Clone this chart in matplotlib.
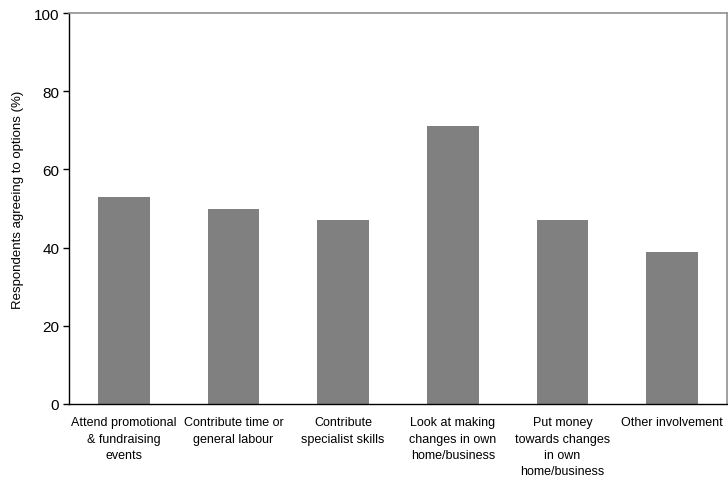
import matplotlib
matplotlib.use("Agg")
import matplotlib.pyplot as plt
import numpy as np

plt.rcParams["font.family"] = ["Liberation Sans", "DejaVu Sans"]

categories = [
    "Attend promotional\n& fundraising\nevents",
    "Contribute time or\ngeneral labour",
    "Contribute\nspecialist skills",
    "Look at making\nchanges in own\nhome/business",
    "Put money\ntowards changes\nin own\nhome/business",
    "Other involvement",
]
values = [53, 50, 47, 71, 47, 39]
yticks = [0, 20, 40, 60, 80, 100]

fig = plt.figure(figsize=(7.28, 4.89), dpi=100)
ax = fig.add_axes([69 / 728, 1 - 405 / 489, (727 - 69) / 728, (405 - 14) / 489])

x = np.arange(len(categories))
ax.bar(x, values, width=0.47, color="#808080", zorder=2)

ax.set_xlim(-0.5, len(categories) - 0.5)
ax.set_ylim(0, 100)
ax.set_yticks(yticks)
ax.set_yticklabels([str(v) for v in yticks], fontsize=11)
ax.set_xticks(x)
ax.set_xticklabels(categories, fontsize=9, linespacing=1.45, va="top")
ax.tick_params(axis="x", length=0, pad=9)
ax.tick_params(axis="y", direction="out", length=4, width=1, pad=3)
ax.set_ylabel("Respondents agreeing to options (%)", fontsize=9.5)
ax.yaxis.set_label_coords(-0.068, 0.524)

for s in ["top", "right"]:
    ax.spines[s].set_color("#909090")
    ax.spines[s].set_linewidth(1.2)
for s in ["left", "bottom"]:
    ax.spines[s].set_color("black")
    ax.spines[s].set_linewidth(1.0)

fig.savefig("out.png", dpi=100)
